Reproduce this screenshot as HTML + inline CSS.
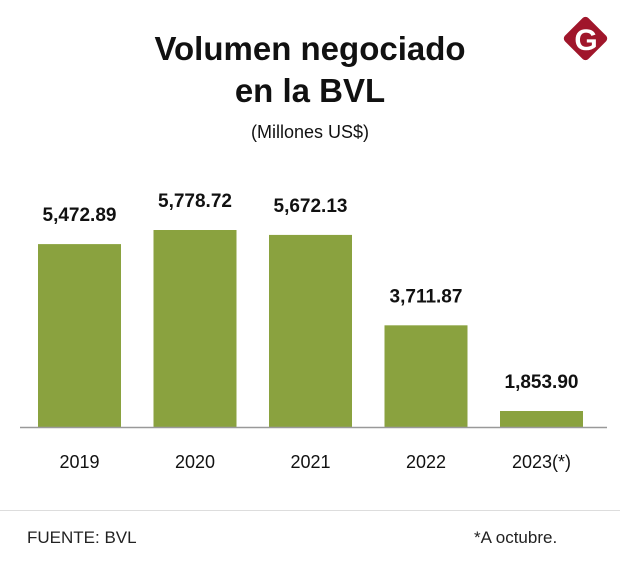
<!DOCTYPE html>
<html><head><meta charset="utf-8"><style>
html,body{margin:0;padding:0;background:#fff;}
body{width:620px;height:570px;position:relative;overflow:hidden;font-family:"Liberation Sans",sans-serif;}
</style></head><body>
<svg width="620" height="570" viewBox="0 0 620 570">
<text x="310" y="60" text-anchor="middle" font-size="33" font-weight="bold" fill="#111">Volumen negociado</text>
<text x="310" y="102" text-anchor="middle" font-size="33" font-weight="bold" fill="#111">en la BVL</text>
<text x="310" y="138" text-anchor="middle" font-size="18" fill="#111">(Millones US$)</text>
<g>
<rect x="569" y="22" width="33" height="33" rx="4" transform="rotate(45 585.5 38.5)" fill="#a0162b"/>
<text x="586" y="50" text-anchor="middle" font-size="30" font-weight="bold" fill="#fff">G</text>
</g>
<g id="bars"></g>
<line x1="20" y1="427.5" x2="607" y2="427.5" stroke="#999" stroke-width="1.5"/>
<line x1="0" y1="510.5" x2="620" y2="510.5" stroke="#ddd" stroke-width="1"/>
<text x="27" y="543" font-size="17" fill="#222">FUENTE: BVL</text>
<text x="474" y="543" font-size="17" fill="#222">*A octubre.</text>
</svg>
<script>
const categories=["2019","2020","2021","2022","2023(*)"];
const values=[5472.89,5778.72,5672.13,3711.87,1853.90];
const labels=["5,472.89","5,778.72","5,672.13","3,711.87","1,853.90"];
const yMin=1507, yMax=5778.72;
const ns="http://www.w3.org/2000/svg";
const g=document.getElementById('bars');
const baseY=427, topY=230;
function y(v){return baseY-(v-yMin)/(yMax-yMin)*(baseY-topY);}
function x(i){return 38+i*115.5;}
const bw=83;
values.forEach((v,i)=>{
 const r=document.createElementNS(ns,'rect');
 
 
 r.setAttribute('x',x(i));r.setAttribute('y',y(v));
 r.setAttribute('width',bw);r.setAttribute('height',baseY-y(v));
 r.setAttribute('fill','#8aa23f');g.appendChild(r);
 const t=document.createElementNS(ns,'text');
 
 
 t.setAttribute('x',x(i)+bw/2);t.setAttribute('y',y(v)-23);
 t.setAttribute('text-anchor','middle');t.setAttribute('font-size','19');
 t.setAttribute('font-weight','bold');t.setAttribute('fill','#111');
 t.textContent=labels[i];g.appendChild(t);
 const c=document.createElementNS(ns,'text');
 
 
 c.setAttribute('x',x(i)+bw/2);c.setAttribute('y',468);
 c.setAttribute('text-anchor','middle');c.setAttribute('font-size','18');
 c.setAttribute('fill','#111');
 c.textContent=categories[i];g.appendChild(c);
});
</script>
</body></html>
